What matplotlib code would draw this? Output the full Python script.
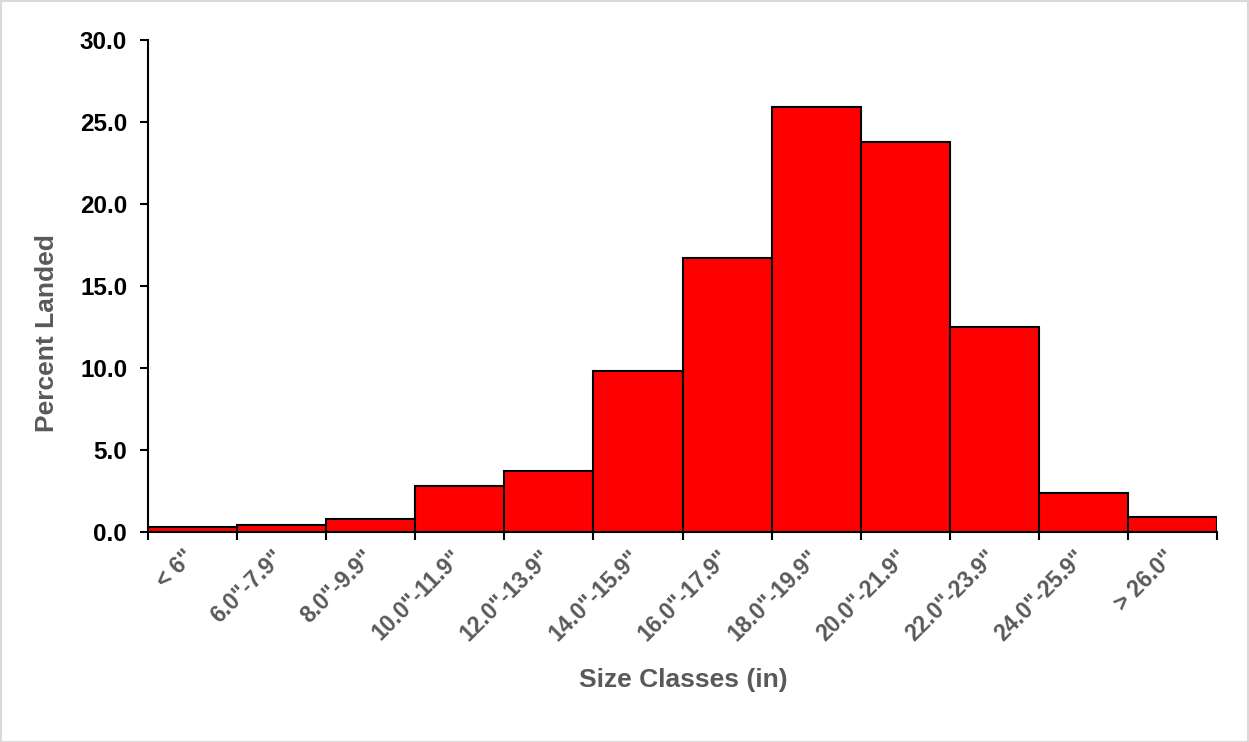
import matplotlib.pyplot as plt
import matplotlib.transforms as mtransforms
from matplotlib.patches import Rectangle

# size class distribution of landed fish
size_classes = ['< 6"', '6.0"-7.9"', '8.0"-9.9"', '10.0"-11.9"', '12.0"-13.9"',
                '14.0"-15.9"', '16.0"-17.9"', '18.0"-19.9"', '20.0"-21.9"',
                '22.0"-23.9"', '24.0"-25.9"', '> 26.0"']
percent_landed = [0.3, 0.4, 0.8, 2.8, 3.7, 9.8, 16.7, 25.9, 23.8, 12.5, 2.4, 0.9]
y_ticks = [0, 5, 10, 15, 20, 25, 30]

plt.rcParams['font.family'] = ['Liberation Sans', 'DejaVu Sans']

fig = plt.figure(figsize=(12.49, 7.42), dpi=100)
ax = fig.add_axes([148 / 1249, 1 - 532 / 742, (1217 - 148) / 1249, (532 - 40) / 742])

pos = list(range(len(size_classes)))
ax.bar(pos, percent_landed, width=1.0, color='#ff0000', edgecolor='black', linewidth=1.5)

ax.set_xlim(-0.5, len(size_classes) - 0.5)
ax.set_ylim(0, 30)
ax.set_yticks(y_ticks)
ax.set_yticklabels(['%.1f' % v for v in y_ticks], fontsize=17.5, fontweight='bold', color='black')

# ticks at bar edges, labels at bar centres
ax.set_xticks([p - 0.5 for p in pos] + [len(pos) - 0.5])
ax.set_xticklabels([])
ax.set_xticks(pos, minor=True)
ax.set_xticklabels(size_classes, minor=True, rotation=45, ha='right', va='top',
                   fontsize=16.5, fontweight='bold', color='#595959')
ax.tick_params(axis='x', which='minor', length=0, pad=10)
ax.tick_params(axis='both', which='major', direction='out', length=6, width=1.5, color='black')
ax.tick_params(axis='y', which='major', pad=9)

shift = mtransforms.ScaledTranslation(7 / 100, 0, fig.dpi_scale_trans)
for lbl in ax.get_xticklabels(minor=True):
    lbl.set_transform(lbl.get_transform() + shift)

for s in ['top', 'right']:
    ax.spines[s].set_visible(False)
for s in ['left', 'bottom']:
    ax.spines[s].set_linewidth(1.5)

fig.text(47 / 1249, 1 - 333 / 742, 'Percent Landed', rotation=90, ha='center', va='center',
         fontsize=19, fontweight='bold', color='#595959')
fig.text(683 / 1249, 1 - 680 / 742, 'Size Classes (in)', ha='center', va='center',
         fontsize=19, fontweight='bold', color='#595959')

fig.patches.append(Rectangle((0.5 / 1249, 0.5 / 742), 1 - 1.5 / 1249, 1 - 1.5 / 742,
                             transform=fig.transFigure, fill=False, edgecolor='#d9d9d9', linewidth=1.5))

fig.savefig('out.png', dpi=100)
